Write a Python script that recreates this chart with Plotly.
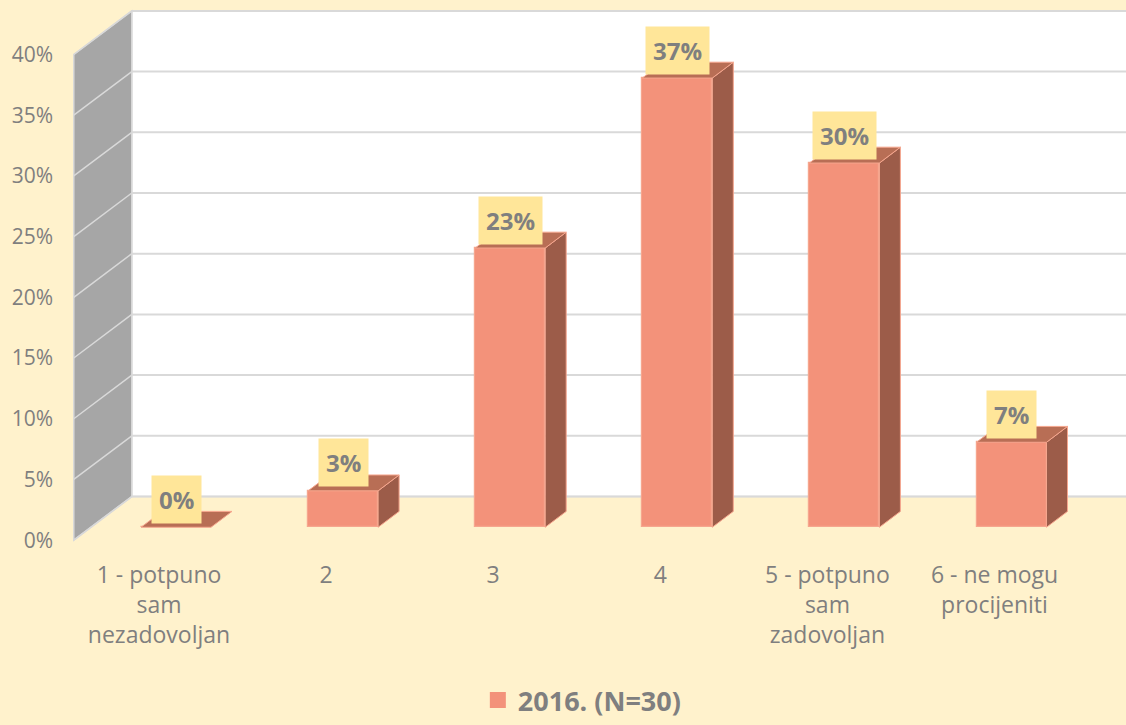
import plotly.graph_objects as go

# ---------------- data ----------------
categories = [
    "1 - potpuno<br>sam<br>nezadovoljan",
    "2",
    "3",
    "4",
    "5 - potpuno<br>sam<br>zadovoljan",
    "6 - ne mogu<br>procijeniti",
]
values = [0, 3, 23, 37, 30, 7]          # percent
value_labels = ["0%", "3%", "23%", "37%", "30%", "7%"]
y_ticks = [0, 5, 10, 15, 20, 25, 30, 35, 40]
y_tick_labels = ["0%", "5%", "10%", "15%", "20%", "25%", "30%", "35%", "40%"]
series_name = "2016. (N=30)"

# ---------------- style / geometry ----------------
W, H = 1126, 725
ML, MR, MT, MB = 60, 0, 0, 165
PXC = 167.1      # pixels per category
PXP = 12.25      # pixels per percent
X0_PX = 176      # pixel of first category centre
Y0_PX = 532      # pixel of 0 % on bar front plane

BG = "#FFF2CC"
FRONT = "#F3927A"
TOP = "#B86E55"
SIDE = "#9C5C49"
EDGE = "#F6A68E"
WALL_SIDE = "#A6A6A6"
GRID = "#D9D9D9"
TXT = "#7F7F7F"
LABEL_BG = "#FFE699"
FONT = "Open Sans"

bar_w = 70 / PXC
bar_dx, bar_dy = 21 / PXC, 16 / PXP        # bar depth
wall_dx, wall_dy = 41 / PXC, 31 / PXP      # back wall offset
front_dx, front_dy = -17 / PXC, -13 / PXP  # floor front edge offset
wall_left = -0.51

x_range = [(ML - X0_PX) / PXC, (W - MR - X0_PX) / PXC]
y_range = [(Y0_PX - (H - MB)) / PXP, (Y0_PX - MT) / PXP]
y_top = y_ticks[-1]

fig = go.Figure()

# ---------------- walls (background shapes) ----------------
shapes = []
bx0 = wall_left + wall_dx
shapes.append(dict(type="rect", xref="x", yref="y", layer="below",
                   x0=bx0, x1=x_range[1] + 1, y0=0 + wall_dy, y1=y_top + wall_dy,
                   fillcolor="white", line=dict(color=GRID, width=1.5)))
for t in y_ticks:
    shapes.append(dict(type="line", xref="x", yref="y", layer="below",
                       x0=bx0, x1=x_range[1] + 1, y0=t + wall_dy, y1=t + wall_dy,
                       line=dict(color=GRID, width=2)))
fx = wall_left + front_dx
side_path = (f"M{fx},{0 + front_dy} L{bx0},{0 + wall_dy} L{bx0},{y_top + wall_dy} "
             f"L{fx},{y_top + front_dy} Z")
shapes.append(dict(type="path", xref="x", yref="y", layer="below", path=side_path,
                   fillcolor=WALL_SIDE, line=dict(color=GRID, width=1.5)))
for t in y_ticks:
    shapes.append(dict(type="line", xref="x", yref="y", layer="below",
                       x0=fx, x1=bx0, y0=t + front_dy, y1=t + wall_dy,
                       line=dict(color=GRID, width=1.5)))

# ---------------- bars ----------------
xs = list(range(len(values)))
fig.add_trace(go.Bar(
    x=xs, y=values, width=bar_w, name=series_name,
    marker=dict(color=FRONT, line=dict(color=EDGE, width=1.2)),
    hoverinfo="skip", showlegend=False,
))
# legend entry (square swatch)
fig.add_trace(go.Scatter(
    x=[None], y=[None], mode="markers", name=series_name,
    marker=dict(symbol="square", size=19, color=FRONT),
    hoverinfo="skip", showlegend=True,
))

for i, v in zip(xs, values):
    l, r = i - bar_w / 2, i + bar_w / 2
    if v > 0:
        fig.add_trace(go.Scatter(
            x=[r, r + bar_dx, r + bar_dx, r, r],
            y=[0, bar_dy, v + bar_dy, v, 0],
            mode="lines", fill="toself", fillcolor=SIDE,
            line=dict(color=EDGE, width=1), hoverinfo="skip", showlegend=False))
    fig.add_trace(go.Scatter(
        x=[l, r, r + bar_dx, l + bar_dx, l],
        y=[v, v, v + bar_dy, v + bar_dy, v],
        mode="lines", fill="toself", fillcolor=TOP,
        line=dict(color=EDGE, width=1), hoverinfo="skip", showlegend=False))

# ---------------- value labels ----------------
annotations = []
for i, v, lab in zip(xs, values, value_labels):
    annotations.append(dict(
        x=i, y=v, xref="x", yref="y", text=f"<b>{lab}</b>", showarrow=False,
        yshift=28, bgcolor=LABEL_BG, borderpad=7,
        font=dict(family=FONT, size=24, color=TXT)))

fig.update_layout(
    width=W, height=H,
    margin=dict(l=ML, r=MR, t=MT, b=MB),
    paper_bgcolor=BG, plot_bgcolor="rgba(0,0,0,0)",
    shapes=shapes, annotations=annotations,
    showlegend=True,
    legend=dict(orientation="h", x=0.49, xanchor="center", y=-0.2625, yanchor="middle",
                itemsizing="trace",
                font=dict(family=FONT, size=27, color=TXT, weight="bold"),
                bgcolor="rgba(0,0,0,0)"),
    xaxis=dict(range=x_range, tickvals=xs, ticktext=categories, showgrid=False,
               zeroline=False, showline=False, ticks="", ticklabelshift=-17,
               ticklabelstandoff=4,
               tickfont=dict(family=FONT, size=23, color=TXT), fixedrange=True),
    yaxis=dict(range=y_range, tickvals=y_ticks, ticktext=y_tick_labels, showgrid=False,
               zeroline=False, showline=False, ticks="", ticklabelshift=13,
               ticklabelstandoff=6,
               tickfont=dict(family=FONT, size=21, color=TXT), fixedrange=True),
    bargap=0,
)

fig.write_html(
    "out.html",
    config={"displayModeBar": False},
    post_script="document.body.style.margin='0';document.body.style.overflow='hidden';",
)
